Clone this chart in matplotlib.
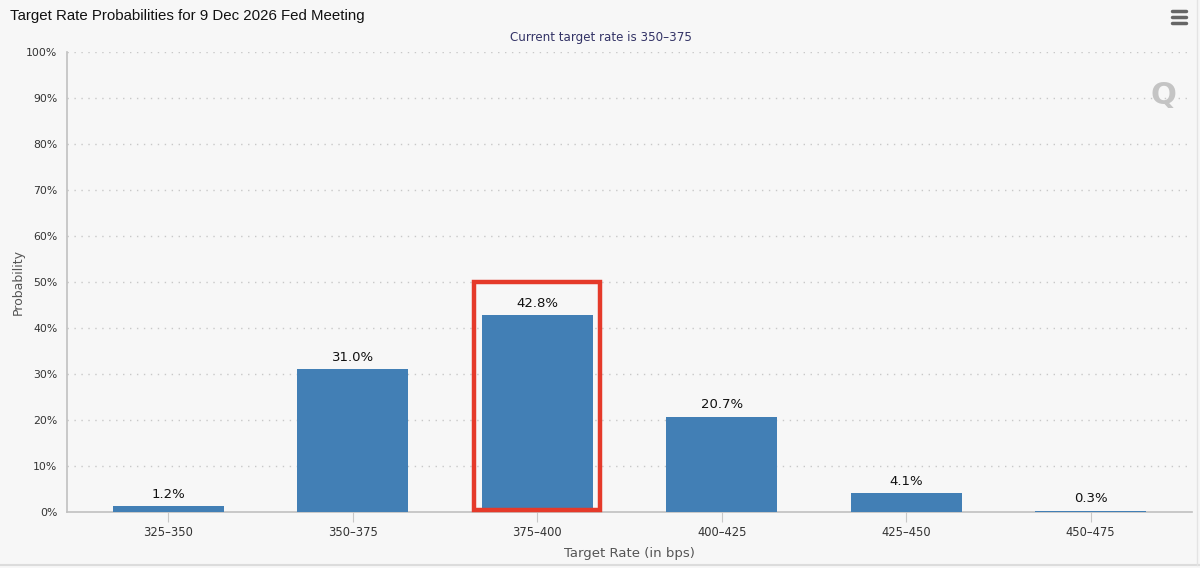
import matplotlib
matplotlib.use("Agg")
import matplotlib.pyplot as plt
from matplotlib.patches import Rectangle
from matplotlib.lines import Line2D

categories = ["325-350", "350-375", "375-400", "400-425", "425-450", "450-475"]
probabilities = [1.2, 31.0, 42.8, 20.7, 4.1, 0.3]
y_ticks = [0, 10, 20, 30, 40, 50, 60, 70, 80, 90, 100]
highlight_index = 2

W, H = 1200, 568
fig = plt.figure(figsize=(W / 100, H / 100), dpi=100)
bg = "#f7f7f7"
fig.patch.set_facecolor(bg)

ax = fig.add_axes([67 / W, (H - 512) / H, 1125 / W, 460 / H])
ax.set_facecolor(bg)

x = list(range(len(categories)))
bars = ax.bar(x, probabilities, width=0.6, color="#427fb5", zorder=3)
for xi, v in zip(x, probabilities):
    ax.text(xi, v + 1.2, f"{v:.1f}%", ha="center", va="bottom",
            fontsize=9.5, color="#111111", family="DejaVu Sans", zorder=4)

ax.set_xlim(-0.549, len(categories) - 1 + 0.549)
ax.set_ylim(0, 100)
ax.set_yticks(y_ticks)
ax.set_yticklabels([f"{t}%" for t in y_ticks])
ax.set_xticks(x)
ax.set_xticklabels([c.replace("-", "\u2013") for c in categories])

for t in y_ticks[1:]:
    ax.axhline(t, color="#c8c8c8", linestyle=(0, (1, 4)), linewidth=1.0, zorder=1)

for s in ["top", "right"]:
    ax.spines[s].set_visible(False)
ax.spines["left"].set_color("#c0c0c0")
ax.spines["bottom"].set_color("#c0c0c0")
ax.spines["left"].set_linewidth(1.2)
ax.spines["bottom"].set_linewidth(1.2)

ax.tick_params(axis="y", length=0, labelsize=7.8, labelcolor="#333333", pad=7)
ax.tick_params(axis="x", length=7, color="#c8c8c8", direction="out",
               labelsize=8.3, labelcolor="#333333", pad=3)

ax.set_ylabel("Probability", fontsize=9, color="#555555", labelpad=1)
ax.set_xlabel("Target Rate (in bps)", fontsize=9.5, color="#555555", labelpad=6)

# highlight box around the most likely bar
hx = highlight_index
ax.add_patch(Rectangle((hx - 0.342, 0.4), 0.684, 49.6, fill=False,
                       edgecolor="#e53a2a", linewidth=3.2, zorder=5,
                       clip_on=False))

fig.text(10 / W, 1 - 16 / H, "Target Rate Probabilities for 9 Dec 2026 Fed Meeting",
         ha="left", va="center", fontsize=10.8, family="Liberation Sans",
         color="#111111")
fig.text(601 / W, 1 - 38 / H, "Current target rate is 350\u2013375",
         ha="center", va="center", fontsize=8.6, color="#333366")

# watermark
fig.text(1163 / W, 1 - 96 / H, "Q", ha="center", va="center", fontsize=22,
         fontweight="bold", color="#c4c4c4")

# menu icon
for yy in (11, 17, 23):
    fig.add_artist(Line2D([1172 / W, 1186 / W], [1 - yy / H, 1 - yy / H],
                          color="#666666", linewidth=2.5, solid_capstyle="round"))

# frame borders
fig.add_artist(Line2D([0, 1], [1 - 565 / H, 1 - 565 / H], color="#dcdcdc", linewidth=1.5))
fig.add_artist(Line2D([1197 / W, 1197 / W], [1 - 565 / H, 1], color="#e4e4e4", linewidth=1.0))

fig.savefig("out.png", dpi=100, facecolor=bg)
